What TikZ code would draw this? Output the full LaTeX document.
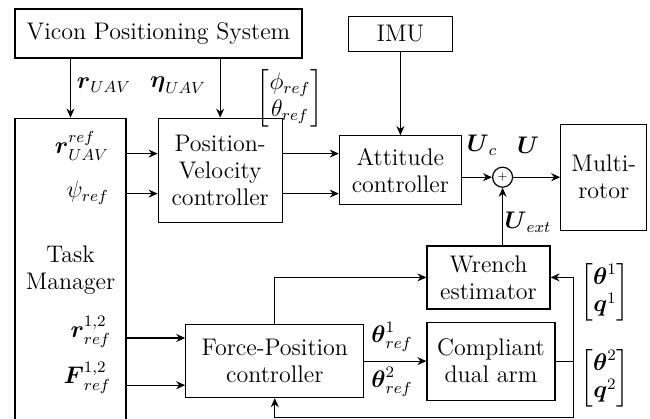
\documentclass[tikz,border=0pt]{standalone}
\usepackage{amsmath}
\usepackage{fix-cm}
\usetikzlibrary{arrows,
                arrows.meta,
                calc,
                positioning,
                shapes}
\tikzset{
	%Define standard arrow tip
	>={Stealth[length=4.5pt,width=4pt]},
	%Define style for boxes
	punkt/.style={
	       rectangle,
	       draw=black, line width=0.6pt,
	       inner sep=0pt,
	       align=center},
	%Define style for the summing point
	punkc/.style={
	       circle,
	       draw=black, line width=0.6pt,
	       inner sep=0pt,
	       minimum size=10pt,
	       font=\tiny},
	% Define arrow style
	pil/.style={
	       ->,
	       line width=0.6pt}
}

\begin{document}
\begin{tikzpicture}[node distance=1cm, font=\fontsize{12}{13.5}\selectfont]
		\useasboundingbox (0,0) rectangle (325pt,-209.5pt);
		% blocks
		\node[punkt, minimum width=143.5pt, minimum height=24.5pt] (vicon) at (79.25pt,-16.75pt) {Vicon Positioning System};
		\node[punkt, minimum width=55.5pt, minimum height=152pt, below=29.5pt of vicon.south west, anchor=north west] (tm) {Task\\Manager};
		\node[punkt, minimum width=62pt, minimum height=52pt, right=15.5pt of tm.north east, anchor=north west] (pv) {Position-\\Velocity\\controller};
		\node[punkt, minimum width=61pt, minimum height=34.5pt, right=28pt of pv.east] (att) {Attitude\\controller};
		\node[punkt, minimum width=52pt, minimum height=17.5pt, above=41.5pt of att.north] (imu) {IMU};
		\node[punkc, right=15pt of att.east, yshift=-3.5pt] (sum) {+};
		\node[punkt, minimum width=43pt, minimum height=53pt, right=23.5pt of sum] (multi) {Multi-\\rotor};
		\node[punkt, minimum width=61.5pt, minimum height=31.5pt, below right=20pt and 13pt of att.south] (wrench) {Wrench\\estimator};
		\node[punkt, minimum width=64pt, minimum height=39pt, below=6pt of wrench.south west, anchor=north west] (comp) {Compliant\\dual arm};
		\node[punkt, minimum width=89pt, minimum height=36.5pt, left=31pt of comp.west] (fp) {Force-Position\\controller};
		% connection points
		\coordinate (a1) at ([yshift=-18pt]pv.north west);
		\coordinate (a2) at ([yshift=-38pt]pv.north west);
		\coordinate (b1) at ([yshift=-7pt]fp.north west);
		\coordinate (b2) at ([yshift=6.5pt]fp.south west);
		\coordinate (fb) at ([xshift=9pt]comp.east);
		\coordinate (fbb) at ([yshift=-9.5pt]fp.south);
		% arrows
		\draw[pil] (vicon.south -| tm.north) -- (tm.north);
		\draw[pil] (vicon.south -| pv.north) -- (pv.north);
		\draw[pil] (tm.east |- a1) -- (a1);
		\draw[pil] (tm.east |- a2) -- (a2);
		\draw[pil] (pv.east |- a1) -- (att.west |- a1);
		\draw[pil] (pv.east |- a2) -- (att.west |- a2);
		\draw[pil] (imu) -- (att);
		\draw[pil] (att.east |- sum) -- (sum);
		\draw[pil] (sum) -- (multi);
		\draw[pil] (wrench.north -| sum) -- (sum);
		\draw[pil] (tm.east |- b1) -- (b1);
		\draw[pil] (tm.east |- b2) -- (b2);
		\draw[pil] (fp.north) |- (wrench.west);
		\draw[pil] (fp) -- (comp);
		\draw[pil] (comp.east) -- (fb) |- (wrench.east);
		\draw[pil] (fb) |- (fbb) -- (fp.south);
		% signal labels
		\node (lrUAV) at (52pt,-42.5pt) {$\boldsymbol{r}_{UAV}$};
		\node (letaUAV) at (89pt,-42.5pt) {$\boldsymbol{\eta}_{UAV}$};
		\node (lang) at (145pt,-49pt) {$\begin{bmatrix}\phi_{ref}\\ \theta_{ref}\end{bmatrix}$};
		\node[anchor=east] (lrref) at (58pt,-73pt) {$\boldsymbol{r}_{UAV}^{ref}$};
		\node[anchor=east] (lpsi) at (58pt,-96.5pt) {$\psi_{ref}$};
		\node[anchor=east] (lr12) at (59pt,-166pt) {$\boldsymbol{r}_{ref}^{1,2}$};
		\node[anchor=east] (lF12) at (59pt,-189pt) {$\boldsymbol{F}_{ref}^{1,2}$};
		\node (lUc) at (241pt,-72.5pt) {$\boldsymbol{U}_c$};
		\node (lU) at (264pt,-72.5pt) {$\boldsymbol{U}$};
		\node (lUext) at (264pt,-111pt) {$\boldsymbol{U}_{ext}$};
		\node[inner sep=0pt] (lth1) at (196pt,-168.5pt) {$\boldsymbol{\theta}_{ref}^{1}$};
		\node[inner sep=0pt] (lth2) at (196pt,-191pt) {$\boldsymbol{\theta}_{ref}^{2}$};
		\node (lq1) at (302.5pt,-146pt) {$\begin{bmatrix}\boldsymbol{\theta}^1\\ \boldsymbol{q}^1\end{bmatrix}$};
		\node (lq2) at (302.5pt,-189pt) {$\begin{bmatrix}\boldsymbol{\theta}^2\\ \boldsymbol{q}^2\end{bmatrix}$};
	\end{tikzpicture}
\end{document}
